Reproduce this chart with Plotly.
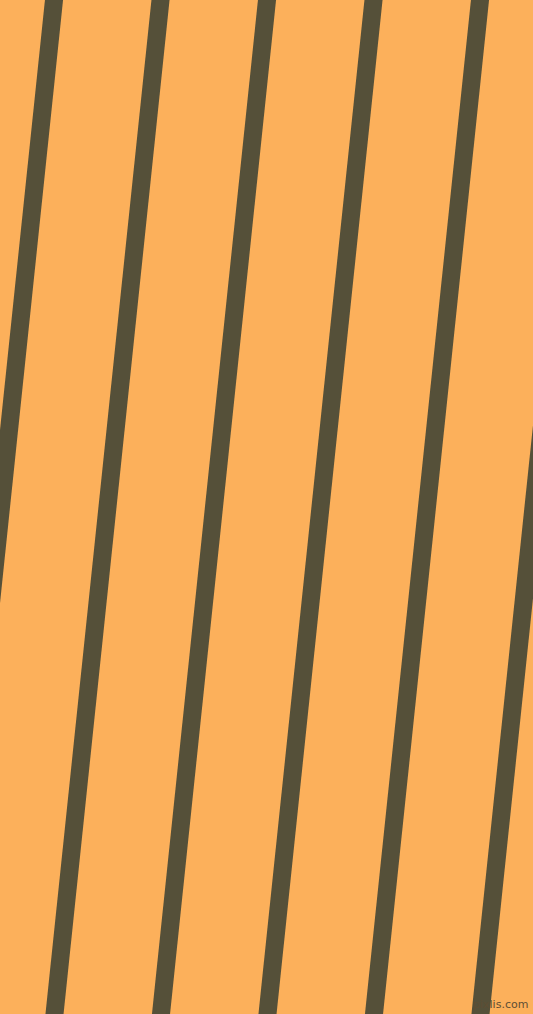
import plotly.graph_objects as go

# stripe centre positions (px) at the top edge (y=0) and bottom edge (y=1014)
top_x = [-52.5, 54, 160.5, 267, 373.5, 480, 586.5]
bottom_x = [-158.5, -52, 54.5, 161, 267.5, 374, 480.5]
y_top = 0
y_bottom = 1014

BG = "#FCB05B"
STRIPE = "#555039"
W, H = 533, 1014
EXT = 40  # extend each stripe past the edges so the caps are hidden

fig = go.Figure()
for xt, xb in zip(top_x, bottom_x):
    slope = (xb - xt) / (y_bottom - y_top)
    fig.add_trace(go.Scatter(
        x=[xt - slope * EXT, xb + slope * EXT],
        y=[y_top - EXT, y_bottom + EXT],
        mode="lines",
        line=dict(color=STRIPE, width=18),
        hoverinfo="skip", showlegend=False,
    ))

fig.add_annotation(
    x=1, y=0, xref="paper", yref="paper", xanchor="right", yanchor="bottom",
    text="pixlis.com", showarrow=False, xshift=-3, yshift=1,
    font=dict(family="DejaVu Sans", size=11, color="#5e4e34"),
)

fig.update_layout(
    width=W, height=H,
    margin=dict(l=0, r=0, t=0, b=0),
    paper_bgcolor=BG, plot_bgcolor=BG,
    xaxis=dict(range=[0, W], visible=False, fixedrange=True),
    yaxis=dict(range=[H, 0], visible=False, fixedrange=True),
    showlegend=False,
)

fig.write_html(
    "out.html",
    config={"displayModeBar": False},
    post_script="document.body.style.margin='0';document.body.style.overflow='hidden';",
)
